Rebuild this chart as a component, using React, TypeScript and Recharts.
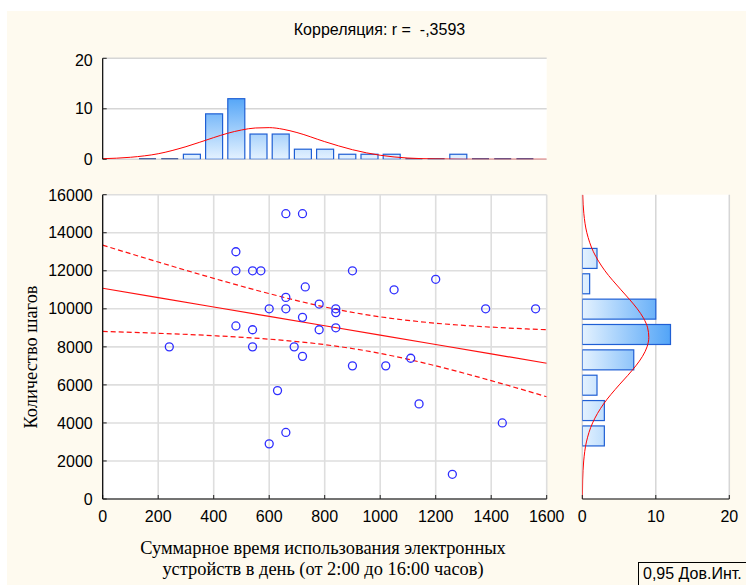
import React from 'react';
import { ComposedChart, Bar, Line, Scatter, XAxis, YAxis, CartesianGrid } from 'recharts';

// usage time histogram (bins of 80, centres)
const usageBins = [160, 240, 320, 400, 480, 560, 640, 720, 800, 880, 960, 1040, 1120, 1200, 1280, 1360, 1440, 1520];
const usageCounts = [0, 0, 1, 9, 12, 5, 5, 2, 2, 1, 1, 1, 0, 0, 1, 0, 0, 0];
const usageCurveAt = [0, 100, 200, 300, 400, 450, 500, 550, 600, 650, 700, 800, 900, 1000, 1100, 1200, 1300, 1400, 1600];
const usageCurve = [0.12, 0.4, 1.1, 2.5, 4.3, 5.15, 5.8, 6.2, 6.27, 5.95, 5.3, 3.5, 1.9, 0.8, 0.25, 0.07, 0.01, 0, 0];

// steps histogram (bins of 1333)
const stepBins = [3333, 4667, 6000, 7333, 8667, 10000, 11333, 12667];
const stepCounts = [3, 3, 2, 7, 12, 10, 1, 2];
const stepCurveAt = [0, 1000, 2000, 3000, 4000, 5000, 6000, 6500, 7000, 7500, 8000, 8500, 9000, 9500, 10000, 10500, 11000, 12000, 13000, 14000, 15000, 16000];
const stepCurve = [0.01, 0.05, 0.19, 0.56, 1.4, 2.9, 5.02, 6.19, 7.28, 8.19, 8.81, 9.05, 8.89, 8.34, 7.48, 6.41, 5.26, 3.08, 1.51, 0.62, 0.21, 0.06];

// scatter points
const usageMinutes = [240, 480, 480, 540, 570, 660, 720, 730, 900, 1050, 1200, 1380, 1560, 600, 660, 660, 720, 780, 840, 840, 480, 540, 780, 840, 540, 690, 720, 900, 1020, 1110, 630, 1140, 1440, 660, 600, 1260];
const stepsPerDay = [8000, 13000, 12000, 12000, 12000, 15000, 15000, 11150, 12000, 11000, 11550, 10000, 10000, 10000, 10600, 10000, 9550, 10250, 10000, 9800, 9100, 8900, 8900, 9000, 8000, 8000, 7500, 7000, 7000, 7400, 5700, 5000, 4000, 3500, 2900, 1300];

// regression line and 0.95 confidence band
const fitAt = [0, 200, 400, 600, 800, 1000, 1200, 1400, 1600];
const fitLine = [11080, 10587, 10094, 9601, 9108, 8616, 8123, 7630, 7137];
const fitUpper = [13347, 12460, 11603, 10798, 10099, 9577, 9244, 9038, 8898];
const fitLower = [8813, 8714, 8585, 8404, 8117, 7655, 7002, 6222, 5376];

const usageTicks = [0, 200, 400, 600, 800, 1000, 1200, 1400, 1600];
const usageMinor = [0, 100, 200, 300, 400, 500, 600, 700, 800, 900, 1000, 1100, 1200, 1300, 1400, 1500, 1600];
const stepTicks = [0, 2000, 4000, 6000, 8000, 10000, 12000, 14000, 16000];
const stepMinor = [0, 1000, 2000, 3000, 4000, 5000, 6000, 7000, 8000, 9000, 10000, 11000, 12000, 13000, 14000, 15000, 16000];
const stepBinEdges = [0, 1333, 2667, 4000, 5333, 6667, 8000, 9333, 10667, 12000, 13333, 14667, 16000];
const countTicks = [0, 10, 20];

const usageHist = usageBins.map((x, i) => ({ x, c: usageCounts[i] }));
const usageFit = usageCurveAt.map((x, i) => ({ x, c: usageCurve[i] }));
const stepHist = stepBins.map((y, i) => ({ y, c: stepCounts[i] }));
const stepFit = stepCurveAt.map((y, i) => ({ y, c: stepCurve[i] }));
const points = usageMinutes.map((x, i) => ({ x, y: stepsPerDay[i] }));
const fit = fitAt.map((x, i) => ({ x, mid: fitLine[i], hi: fitUpper[i], lo: fitLower[i] }));

const SANS = '"Liberation Sans", Arial, sans-serif';
const SERIF = '"Liberation Serif", "Times New Roman", serif';
const BG = '#fefaef';
const TICK = { fill: '#000', fontSize: 16, fontFamily: SANS };
const AXIS = { stroke: '#000', strokeWidth: 1.2 };
const TLINE = { stroke: '#222' };
const blank = () => '';

const HistBar = (p: any) => {
  const { x, y, width, height, fill } = p;
  if (!height || Math.abs(height) < 0.5) {
    return <line x1={x} x2={x + width} y1={y} y2={y} stroke="#1b3a8a" strokeWidth={2} />;
  }
  return <rect x={x} y={y} width={width} height={height} fill={fill} stroke="#1f5fd4" strokeWidth={1.2} />;
};

const Ring = (p: any) => (
  <circle cx={p.cx} cy={p.cy} r={4} fill="none" stroke="#2e2eff" strokeWidth={1.3} />
);

function TopHist() {
  return (
    <ComposedChart width={580} height={130} data={usageHist} margin={{ top: 7.3, right: 40.3, bottom: 21.7, left: 35.7 }}>
      <defs>
        <linearGradient id="gTop" gradientUnits="userSpaceOnUse" x1="0" y1="44" x2="0" y2="108">
          <stop offset="0" stopColor="#4ea2f7" />
          <stop offset="1" stopColor="#e4f2ff" />
        </linearGradient>
      </defs>
      <CartesianGrid vertical={false} fill="#fff" stroke="#d6d6d6" strokeWidth={1.5} />
      <XAxis type="number" dataKey="x" domain={[0, 1600]} ticks={usageTicks} height={0} tickSize={-4}
        tickFormatter={blank} axisLine={AXIS} tickLine={TLINE} allowDataOverflow />
      <XAxis xAxisId="t" orientation="top" type="number" dataKey="x" domain={[0, 1600]} ticks={usageTicks} height={0}
        tickSize={-4} tickFormatter={blank} axisLine={AXIS} tickLine={TLINE} allowDataOverflow />
      <YAxis type="number" domain={[0, 20]} ticks={countTicks} width={60} tickSize={-4} tickMargin={14}
        tick={TICK} axisLine={AXIS} tickLine={TLINE} allowDataOverflow />
      <YAxis yAxisId="r" orientation="right" type="number" domain={[0, 20]} ticks={countTicks} width={0} tickSize={-4}
        tickFormatter={blank} axisLine={AXIS} tickLine={TLINE} allowDataOverflow />
      <Bar dataKey="c" barSize={17} fill="url(#gTop)" shape={HistBar} isAnimationActive={false} />
      <Line data={usageFit} xAxisId="t" yAxisId="r" dataKey="c" type="monotone" stroke="#ff0000" strokeWidth={1}
        dot={false} isAnimationActive={false} />
    </ComposedChart>
  );
}

function MainScatter() {
  return (
    <ComposedChart width={580} height={345} margin={{ top: 8.7, right: 40.3, bottom: 0, left: 35.7 }}>
      <CartesianGrid fill="#fff" stroke="#dedede" strokeWidth={1.6} />
      <XAxis type="number" dataKey="x" domain={[0, 1600]} ticks={usageTicks} height={32} tickSize={-4} tickMargin={16}
        tick={TICK} axisLine={AXIS} tickLine={TLINE} allowDataOverflow />
      <XAxis xAxisId="t" orientation="top" type="number" dataKey="x" domain={[0, 1600]} ticks={usageMinor} height={0}
        tickSize={-3} tickFormatter={blank} axisLine={AXIS} tickLine={TLINE} allowDataOverflow />
      <YAxis type="number" dataKey="y" domain={[0, 16000]} ticks={stepTicks} width={60} tickSize={-4} tickMargin={14}
        tick={TICK} axisLine={AXIS} tickLine={TLINE} allowDataOverflow />
      <YAxis yAxisId="r" orientation="right" type="number" domain={[0, 16000]} ticks={stepMinor} width={0} tickSize={-3}
        tickFormatter={blank} axisLine={AXIS} tickLine={TLINE} allowDataOverflow />
      <Line data={fit} xAxisId="t" yAxisId="r" dataKey="hi" type="monotone" stroke="#ff1010" strokeWidth={1.2}
        strokeDasharray="5 3" dot={false} isAnimationActive={false} />
      <Line data={fit} xAxisId="t" yAxisId="r" dataKey="lo" type="monotone" stroke="#ff1010" strokeWidth={1.2}
        strokeDasharray="5 3" dot={false} isAnimationActive={false} />
      <Line data={fit} xAxisId="t" yAxisId="r" dataKey="mid" type="linear" stroke="#ff1010" strokeWidth={1.2}
        dot={false} isAnimationActive={false} />
      <Scatter data={points} shape={Ring} isAnimationActive={false} />
    </ComposedChart>
  );
}

// in vertical layout the numeric Y axes run top-down, so they are reversed here
function SideHist() {
  return (
    <ComposedChart layout="vertical" width={219} height={345} data={stepHist} margin={{ top: 8.7, right: 16.7, bottom: 0, left: 55.3 }}>
      <defs>
        <linearGradient id="gSide" gradientUnits="userSpaceOnUse" x1="55" y1="0" x2="146" y2="0">
          <stop offset="0" stopColor="#e4f2ff" />
          <stop offset="1" stopColor="#4ea2f7" />
        </linearGradient>
      </defs>
      <CartesianGrid horizontal={false} fill="#fff" stroke="#d6d6d6" strokeWidth={1.5} />
      <XAxis type="number" domain={[0, 20]} ticks={countTicks} height={32} tickSize={-4} tickMargin={16}
        tick={TICK} axisLine={AXIS} tickLine={TLINE} allowDataOverflow />
      <XAxis xAxisId="t" orientation="top" type="number" domain={[0, 20]} ticks={countTicks} height={0} tickSize={-4}
        tickFormatter={blank} axisLine={AXIS} tickLine={TLINE} allowDataOverflow />
      <YAxis type="number" dataKey="y" domain={[0, 16000]} reversed ticks={stepBinEdges} width={0} tickSize={-4}
        tickFormatter={blank} axisLine={AXIS} tickLine={TLINE} allowDataOverflow />
      <YAxis yAxisId="r" orientation="right" type="number" dataKey="y" domain={[0, 16000]} reversed ticks={stepBinEdges} width={0}
        tickSize={-4} tickFormatter={blank} axisLine={AXIS} tickLine={TLINE} allowDataOverflow />
      <Bar dataKey="c" barSize={20} fill="url(#gSide)" shape={HistBar} isAnimationActive={false} />
      <Line data={stepFit} xAxisId="t" yAxisId="r" dataKey="c" type="monotone" stroke="#ff0000" strokeWidth={1}
        dot={false} isAnimationActive={false} />
    </ComposedChart>
  );
}

export default function App() {
  return (
    <div style={{ position: 'absolute', left: 7, top: 11, width: 739, height: 574, background: BG, overflow: 'hidden', fontFamily: SANS }}>
      <div style={{ position: 'absolute', left: 3, top: 10, width: 739, textAlign: 'center', fontSize: 16 }}>
        Корреляция: r =&nbsp; -,3593
      </div>
      <div style={{ position: 'absolute', left: 0, top: 40 }}>
        <TopHist />
      </div>
      <div style={{ position: 'absolute', left: 0, top: 175 }}>
        <MainScatter />
      </div>
      <div style={{ position: 'absolute', left: 520, top: 175 }}>
        <SideHist />
      </div>
      <div style={{ position: 'absolute', left: 116, top: 527, width: 400, textAlign: 'center', fontFamily: SERIF, fontSize: 18.4, lineHeight: '21px' }}>
        Суммарное время использования электронных<br />устройств в день (от 2:00 до 16:00 часов)
      </div>
      <div style={{ position: 'absolute', left: 24, top: 346, transform: 'translate(-50%, -50%) rotate(-90deg)', whiteSpace: 'nowrap', fontFamily: SERIF, fontSize: 18.4 }}>
        Количество шагов
      </div>
      <div style={{ position: 'absolute', left: 631, top: 551, width: 130, height: 30, border: '1px solid #000', padding: '2px 4px', fontSize: 16, boxSizing: 'border-box' }}>
        0,95 Дов.Инт.
      </div>
    </div>
  );
}
